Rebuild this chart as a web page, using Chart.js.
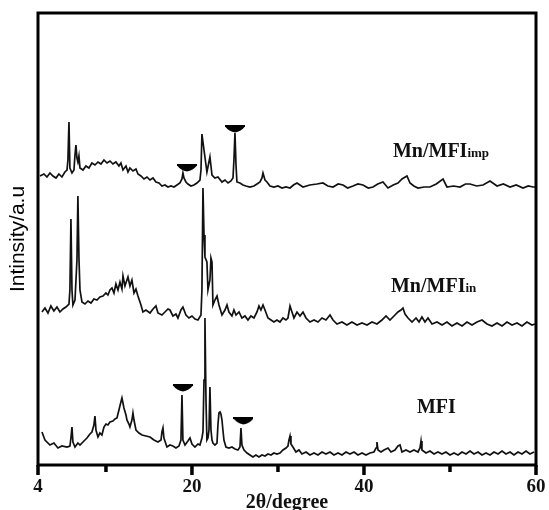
<!DOCTYPE html>
<html>
<head>
<meta charset="utf-8">
<script src="https://cdn.jsdelivr.net/npm/chart.js@4/dist/chart.umd.min.js"></script>
<style>
  html, body { margin: 0; padding: 0; background: #fff; }
  canvas { display: block; }
</style>
</head>
<body>
<canvas id="xrdChart" width="549" height="510"></canvas>
<script>
// 2theta (degree) and intensity (a.u., stacked offsets)
const impTheta = [2.33, 2.79, 3.14, 3.49, 3.84, 4.19, 4.53, 4.88, 5.23, 5.47, 5.58, 5.70, 5.81, 6.05, 6.28, 6.40, 6.51, 6.63, 6.74, 6.86, 6.98,
  7.33, 7.67, 8.02, 8.37, 8.72, 9.07, 9.42, 9.77, 10.12, 10.47, 10.81, 11.16, 11.51, 11.74, 11.98, 12.33, 12.56, 12.79, 13.14, 13.49,
  13.72, 14.07, 14.42, 14.77, 15.12, 15.47, 15.81, 16.16, 16.51, 16.86, 17.21, 17.56, 17.91, 18.26, 18.60, 18.84, 18.95, 19.07, 19.30,
  19.53, 19.88, 20.23, 20.58, 20.93, 21.05, 21.16, 21.40, 21.74, 22.09, 22.33, 22.67, 23.02, 23.49, 23.84, 24.19, 24.53, 24.77, 24.88,
  25.00, 25.12, 25.23, 25.58, 25.93, 26.28, 26.74, 27.21, 27.56, 27.91, 28.14, 28.26, 28.49, 28.72, 29.07, 29.53, 30.00, 30.47, 30.93,
  31.40, 31.80, 32.21, 32.91, 33.70, 34.53, 35.23, 35.80, 36.40, 37.00, 37.56, 38.10, 38.72, 39.30, 39.88, 40.50, 41.05, 41.60, 42.21,
  42.79, 43.40, 43.95, 44.42, 45.00, 45.35, 45.80, 46.28, 47.00, 47.67, 48.40, 49.19, 49.65, 50.40, 51.16, 51.80, 52.33, 53.10, 53.84,
  54.65, 55.47, 56.20, 56.98, 57.70, 58.49, 59.10, 59.65, 60.00];
const impIntensity = [289, 291, 288, 292, 289, 287, 291, 288, 293, 295, 305, 343, 297, 292, 295, 310, 320, 307, 303, 309, 297,
  295, 299, 297, 302, 300, 303, 301, 305, 302, 304, 301, 303, 299, 302, 295, 299, 293, 297, 294, 296,
  291, 289, 286, 288, 285, 287, 283, 282, 279, 280, 278, 279, 278, 280, 282, 286, 292, 287, 283,
  281, 279, 280, 282, 285, 295, 331, 315, 293, 308, 290, 287, 288, 283, 285, 282, 284, 287, 305,
  332, 300, 283, 282, 280, 279, 278, 279, 281, 283, 287, 292, 285, 283, 279, 278, 279, 277, 278,
  277, 280, 282, 278, 280, 281, 282, 279, 278, 281, 280, 277, 279, 281, 280, 277, 278, 281, 283,
  277, 280, 282, 286, 289, 282, 279, 277, 278, 278, 281, 286, 278, 279, 278, 281, 281, 279, 280,
  284, 279, 281, 278, 280, 277, 279, 278, 278];

const inTheta = [2.56, 2.91, 3.26, 3.60, 3.95, 4.30, 4.65, 5.00, 5.35, 5.70, 5.81, 5.93, 6.05, 6.16, 6.40, 6.63, 6.74, 6.86, 6.98,
  7.21, 7.56, 7.91, 8.26, 8.60, 8.95, 9.30, 9.65, 10.00, 10.23, 10.47, 10.70, 10.93, 11.16, 11.40, 11.63, 11.86, 11.98, 12.21, 12.44,
  12.56, 12.79, 13.02, 13.26, 13.49, 13.72, 14.07, 14.30, 14.65, 15.12, 15.47, 15.81, 16.05, 16.51, 16.86, 17.21, 17.44, 17.79, 18.14,
  18.37, 18.72, 18.95, 19.30, 19.65, 20.00, 20.35, 20.70, 21.05, 21.16, 21.28, 21.40, 21.51, 21.74, 21.86, 22.09, 22.21, 22.33, 22.44,
  22.67, 22.91, 23.14, 23.49, 23.84, 24.07, 24.30, 24.65, 24.88, 25.12, 25.47, 25.81, 26.16, 26.51, 26.86, 27.21, 27.56, 27.79, 28.02,
  28.26, 28.49, 28.84, 29.19, 29.53, 29.88, 30.23, 30.58, 30.93, 31.16, 31.40, 31.63, 31.86, 32.21, 32.56, 32.91, 33.26, 33.72, 34.19,
  34.65, 35.12, 35.58, 36.05, 36.40, 36.86, 37.44, 38.02, 38.60, 39.19, 39.77, 40.35, 40.93, 41.51, 42.09, 42.56, 43.02, 43.49, 43.95,
  44.30, 44.53, 44.77, 45.12, 45.58, 46.05, 46.40, 46.74, 47.09, 47.44, 47.91, 48.49, 49.07, 49.65, 50.23, 50.81, 51.40, 51.98, 52.56,
  53.14, 53.72, 54.30, 54.88, 55.47, 56.05, 56.63, 57.21, 57.79, 58.37, 58.95, 59.53, 59.88];
const inIntensity = [153, 157, 152, 159, 154, 158, 153, 156, 158, 161, 175, 246, 175, 160, 165, 205, 269, 207, 175,
  163, 161, 164, 162, 166, 165, 168, 169, 172, 170, 175, 177, 172, 181, 175, 183, 176, 189, 179, 185,
  188, 179, 185, 172, 176, 169, 160, 153, 155, 152, 156, 159, 152, 150, 153, 156, 155, 149, 151,
  147, 155, 158, 150, 147, 149, 146, 145, 150, 175, 277, 230, 208, 203, 175, 185, 207, 203, 160,
  165, 169, 160, 150, 155, 160, 153, 149, 155, 150, 153, 147, 149, 145, 149, 147, 153, 159, 155,
  160, 155, 147, 145, 143, 145, 143, 147, 145, 147, 159, 153, 147, 153, 149, 153, 147, 143, 145,
  143, 147, 145, 150, 145, 141, 143, 140, 143, 140, 142, 140, 143, 141, 145, 149, 145, 149, 153,
  155, 157, 151, 147, 143, 147, 143, 148, 143, 147, 141, 143, 140, 143, 139, 142, 139, 143, 140,
  143, 145, 141, 139, 142, 139, 143, 140, 142, 139, 143, 140, 141];

const mfiTheta = [2.56, 2.91, 3.49, 3.95, 4.42, 4.88, 5.47, 5.81, 5.93, 6.05, 6.16, 6.40, 6.74, 6.98, 7.44, 7.79, 8.14, 8.37, 8.60,
  8.72, 8.84, 9.07, 9.30, 9.53, 9.77, 10.00, 10.23, 10.47, 10.81, 11.05, 11.28, 11.51, 11.74, 11.86, 11.98, 12.09, 12.33, 12.44, 12.67,
  12.79, 13.02, 13.14, 13.26, 13.49, 13.84, 14.19, 14.65, 15.12, 15.58, 16.05, 16.40, 16.51, 16.63, 16.74, 17.09, 17.44, 17.79, 18.14,
  18.49, 18.72, 18.84, 18.95, 19.19, 19.53, 19.77, 20.00, 20.35, 20.70, 20.93, 21.16, 21.28, 21.40, 21.51, 21.63, 21.74, 21.86, 21.98,
  22.09, 22.21, 22.33, 22.44, 22.67, 22.91, 23.02, 23.14, 23.26, 23.37, 23.49, 23.60, 23.72, 23.95, 24.30, 24.65, 25.00, 25.35, 25.58,
  25.70, 25.81, 26.05, 26.40, 26.74, 27.09, 27.44, 27.79, 28.14, 28.49, 28.84, 29.19, 29.53, 29.88, 30.23, 30.58, 30.93, 31.16, 31.28,
  31.40, 31.51, 31.74, 32.09, 32.44, 32.79, 33.26, 33.72, 34.19, 34.65, 35.12, 35.58, 36.05, 36.51, 36.98, 37.44, 37.91, 38.37, 38.84,
  39.30, 39.77, 40.23, 40.70, 41.16, 41.40, 41.51, 41.63, 41.98, 42.33, 42.79, 43.14, 43.60, 43.95, 44.19, 44.42, 44.88, 45.35, 45.81,
  46.28, 46.51, 46.63, 46.74, 47.21, 47.67, 48.14, 48.60, 49.07, 49.53, 50.00, 50.47, 50.93, 51.40, 51.86, 52.33, 52.79, 53.26, 53.72,
  54.19, 54.65, 55.12, 55.58, 56.05, 56.51, 56.98, 57.44, 57.91, 58.37, 58.84, 59.30, 59.77];
const mfiIntensity = [33, 25, 20, 22, 17, 19, 18, 19, 27, 38, 23, 18, 22, 20, 24, 27, 31, 33, 40,
  49, 35, 28, 32, 30, 38, 41, 40, 43, 44, 46, 47, 55, 63, 67, 62, 57, 50, 45, 41,
  38, 45, 52, 45, 35, 32, 30, 29, 28, 25, 23, 25, 33, 37, 27, 18, 20, 19, 17,
  19, 25, 70, 25, 20, 24, 27, 21, 18, 21, 20, 27, 33, 85, 147, 65, 25, 27, 35,
  78, 35, 25, 22, 20, 22, 40, 52, 53, 51, 45, 35, 25, 18, 17, 18, 16, 15, 18,
  37, 20, 15, 12, 10, 8, 10, 8, 10, 9, 11, 10, 12, 11, 12, 15, 17, 19, 25,
  29, 21, 18, 13, 15, 11, 13, 10, 12, 10, 13, 11, 13, 10, 12, 10, 13, 11, 13,
  10, 12, 10, 12, 13, 17, 23, 15, 13, 15, 17, 13, 15, 19, 20, 13, 15, 13, 15,
  13, 17, 24, 15, 12, 14, 11, 13, 11, 13, 10, 12, 10, 13, 11, 14, 11, 13, 10,
  12, 10, 13, 11, 14, 11, 13, 10, 13, 11, 14, 11, 13];

// peak markers (inverted triangles)
const markerTheta = [19.42, 25.0, 18.95, 25.99];
const markerIntensity = [297, 336, 77, 44];

// x axis: ticks at 20/40/60, left end printed as "4"
const xMin = 2.1;
const xMax = 60;
const xTickValues = [xMin, 20, 40, 60];
const xTickLabels = ["4", "20", "40", "60"];
const xMinorTicks = [10, 30, 50];

const seriesNames = ["Mn/MFI", "Mn/MFI", "MFI"];
const seriesSubs = ["imp", "in", ""];

const toPoints = (xs, ys) => xs.map((x, i) => ({ x: x, y: ys[i] }));

function makeMarker() {
  const c = document.createElement("canvas");
  c.width = 20;
  c.height = 8;
  const g = c.getContext("2d");
  g.fillStyle = "#000";
  g.beginPath();
  g.moveTo(0, 0);
  g.lineTo(20, 0);
  g.lineTo(20, 1.5);
  g.quadraticCurveTo(16, 6.5, 10, 7.5);
  g.quadraticCurveTo(4, 6.5, 0, 1.5);
  g.closePath();
  g.fill();
  return c;
}

const traceStyle = {
  borderColor: "#111",
  borderWidth: 1.7,
  pointRadius: 0,
  tension: 0,
  fill: false,
};

const framePlugin = {
  id: "frame",
  afterDraw(chart) {
    const { ctx, chartArea: a, scales } = chart;
    const x = scales.x;
    const y = scales.y;
    ctx.save();
    ctx.strokeStyle = "#000";
    ctx.lineWidth = 3;
    ctx.strokeRect(a.left, a.top, a.right - a.left, a.bottom - a.top);
    // tick marks under the bottom axis
    ctx.lineWidth = 3.5;
    xTickValues.forEach((v) => {
      const px = x.getPixelForValue(v);
      ctx.beginPath();
      ctx.moveTo(px, a.bottom);
      ctx.lineTo(px, a.bottom + 10);
      ctx.stroke();
    });
    xMinorTicks.forEach((v) => {
      const px = x.getPixelForValue(v);
      ctx.beginPath();
      ctx.moveTo(px, a.bottom);
      ctx.lineTo(px, a.bottom + 7);
      ctx.stroke();
    });
    // series labels
    const labelPos = [[43.37, 308], [43.14, 173], [46.16, 52]];
    ctx.fillStyle = "#111";
    ctx.textBaseline = "alphabetic";
    ctx.textAlign = "left";
    seriesNames.forEach((name, i) => {
      const px = x.getPixelForValue(labelPos[i][0]);
      const py = y.getPixelForValue(labelPos[i][1]);
      ctx.font = 'bold 20px "Liberation Serif"';
      ctx.fillText(name, px, py);
      if (seriesSubs[i]) {
        const w = ctx.measureText(name).width;
        ctx.font = 'bold 13px "Liberation Serif"';
        ctx.fillText(seriesSubs[i], px + w, py);
      }
    });
    ctx.restore();
  },
};

const ctx = document.getElementById("xrdChart").getContext("2d");
new Chart(ctx, {
  type: "line",
  data: {
    datasets: [
      { label: "Mn/MFIimp", data: toPoints(impTheta, impIntensity), ...traceStyle },
      { label: "Mn/MFIin", data: toPoints(inTheta, inIntensity), ...traceStyle },
      { label: "MFI", data: toPoints(mfiTheta, mfiIntensity), ...traceStyle },
      {
        label: "markers",
        type: "scatter",
        data: toPoints(markerTheta, markerIntensity),
        pointStyle: makeMarker(),
        pointRadius: 10,
        showLine: false,
      },
    ],
  },
  options: {
    responsive: false,
    animation: false,
    layout: { padding: { top: 13, right: 13, left: 0, bottom: 0 } },
    plugins: {
      legend: { display: false },
      tooltip: { enabled: false },
    },
    scales: {
      x: {
        type: "linear",
        min: xMin,
        max: xMax,
        grid: { display: false, drawTicks: false },
        border: { display: false },
        afterFit: (s) => {
          s.height = 45;
          s.paddingLeft = 0;
          s.paddingRight = 0;
        },
        afterBuildTicks: (s) => { s.ticks = xTickValues.map((v) => ({ value: v })); },
        ticks: {
          autoSkip: false,
          maxRotation: 0,
          padding: 11,
          color: "#111",
          font: { family: "Liberation Serif", size: 19, weight: "bold" },
          callback: (v, i) => xTickLabels[i],
        },
        title: {
          display: true,
          text: "2θ/degree",
          color: "#111",
          font: { family: "Liberation Serif", size: 20, weight: "bold", lineHeight: 0.7 },
          padding: { top: 0, bottom: 0 },
        },
      },
      y: {
        min: 0,
        max: 452,
        grid: { display: false, drawTicks: false },
        border: { display: false },
        ticks: { display: false },
        afterFit: (s) => { s.width = 38; },
        title: {
          display: true,
          text: "Intinsity/a.u",
          color: "#000",
          font: { family: "Liberation Sans", size: 21 },
          padding: { top: 6, bottom: 0 },
        },
      },
    },
  },
  plugins: [framePlugin],
});
</script>
</body>
</html>
